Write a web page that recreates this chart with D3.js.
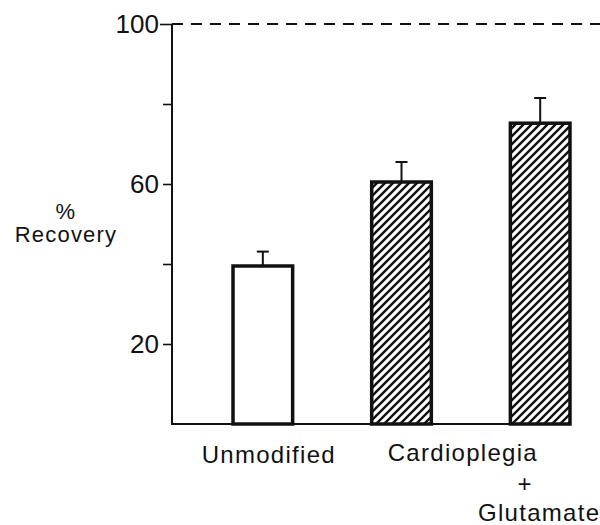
<!DOCTYPE html>
<html>
<head>
<meta charset="utf-8">
<script src="https://cdn.jsdelivr.net/npm/d3@7"></script>
<style>
  body { margin: 0; background: #fff; }
  text { font-family: "Liberation Sans", Arial, sans-serif; fill: #111; }
</style>
</head>
<body>
<script>
const groups = ["Unmodified", "Cardioplegia", "Cardioplegia + Glutamate"];
const recovery = [39.5, 60.5, 75.2];
const sem = [3.6, 5.0, 6.3];
const hatched = [false, true, true];
const yTicks = [20, 40, 60, 80, 100];
const yLabels = [20, 60, 100];

function init() {
    const dimensions = {
        width: 600,
        height: 525,
        margin: { left: 172, right: 30, top: 24, bottom: 97 },
    };

    const svg = d3.select("body").append("svg")
    .attr("width", dimensions.width).attr("height", dimensions.height);

    // diagonal hatch for the two treated groups
    svg.append("defs").append("pattern")
    .attr("id", "hatch")
    .attr("patternUnits", "userSpaceOnUse")
    .attr("width", 8).attr("height", 8)
    .append("path")
    .attr("d", "M-1,1 l2,-2 M0,8 l8,-8 M7,9 l2,-2")
    .attr("stroke", "#111")
    .attr("stroke-width", 2.4);

    barChart(svg, dimensions);
}

document.addEventListener('DOMContentLoaded', init)

function barChart(svg, dimensions) {
    const bottom = dimensions.height - dimensions.margin.bottom - 4;

    const yScale = d3.scaleLinear()
    .domain([0, 100])
    .range([bottom, dimensions.margin.top]);

    const xScale = d3.scaleBand()
    .domain(groups)
    .range([dimensions.margin.left, 570])
    .paddingInner(0.57)
    .paddingOuter(0.22)
    .align(1);

    // reference line at 100%
    svg.append("line")
    .attr("x1", dimensions.margin.left).attr("x2", 600)
    .attr("y1", yScale(100)).attr("y2", yScale(100))
    .attr("stroke", "#111").attr("stroke-width", 2)
    .attr("stroke-dasharray", "11 8");

    const yAxis = d3.axisLeft(yScale)
    .tickValues(yTicks)
    .tickSize(9)
    .tickPadding(4)
    .tickFormat(d => yLabels.includes(d) ? d : "");

    const yg = svg.append("g")
    .attr("transform", `translate(${dimensions.margin.left},0)`)
    .call(yAxis);
    yg.select(".domain").remove();
    yg.selectAll(".tick line").attr("stroke", "#111").attr("stroke-width", 1.6);
    yg.selectAll(".tick text")
    .style("font-size", "26px")
    .attr("fill", "#111");
    yg.select(".tick:last-of-type line").attr("x2", -12);

    svg.append("line")
    .attr("x1", dimensions.margin.left).attr("x2", dimensions.margin.left)
    .attr("y1", yScale(100)).attr("y2", bottom)
    .attr("stroke", "#111").attr("stroke-width", 2);

    svg.append("line")
    .attr("x1", dimensions.margin.left - 1).attr("x2", 570)
    .attr("y1", bottom).attr("y2", bottom)
    .attr("stroke", "#111").attr("stroke-width", 2);

    // error bars (upper only)
    const err = svg.append("g").attr("stroke", "#111").attr("stroke-width", 2);
    groups.forEach((g, i) => {
        const cx = xScale(g) + xScale.bandwidth() / 2;
        err.append("line")
        .attr("x1", cx).attr("x2", cx)
        .attr("y1", yScale(recovery[i])).attr("y2", yScale(recovery[i] + sem[i]));
        err.append("line")
        .attr("x1", cx - 6).attr("x2", cx + 6)
        .attr("y1", yScale(recovery[i] + sem[i])).attr("y2", yScale(recovery[i] + sem[i]));
    });

    svg.append("g").selectAll("rect")
    .data(groups)
    .join("rect")
    .attr("x", d => xScale(d))
    .attr("y", (d, i) => yScale(recovery[i]))
    .attr("width", xScale.bandwidth())
    .attr("height", (d, i) => bottom - yScale(recovery[i]))
    .attr("fill", (d, i) => hatched[i] ? "url(#hatch)" : "#fff")
    .attr("stroke", "#111")
    .attr("stroke-width", 3.5);

    // category labels
    const labels = svg.append("g").style("font-size", "24px").style("letter-spacing", "1.3px");
    const c0 = xScale(groups[0]) + xScale.bandwidth() / 2;
    const c1 = xScale(groups[1]) + xScale.bandwidth() / 2;
    const c2 = xScale(groups[2]) + xScale.bandwidth() / 2;
    labels.append("text").attr("x", c0 + 6).attr("y", 463).attr("text-anchor", "middle").text("Unmodified");
    labels.append("text").attr("x", (c1 + c2) / 2 - 8).attr("y", 461).attr("text-anchor", "middle").text("Cardioplegia");
    labels.append("text").attr("x", c2 - 15).attr("y", 492).attr("text-anchor", "middle").text("+");
    labels.append("text").attr("x", c2 - 1).attr("y", 521).attr("text-anchor", "middle").text("Glutamate");

    // y label
    const yl = svg.append("g").style("font-size", "22px").style("letter-spacing", "1.2px").attr("text-anchor", "middle");
    yl.append("text").attr("x", 66).attr("y", 219).text("%");
    yl.append("text").attr("x", 66).attr("y", 242).text("Recovery");
}
</script>
</body>
</html>
